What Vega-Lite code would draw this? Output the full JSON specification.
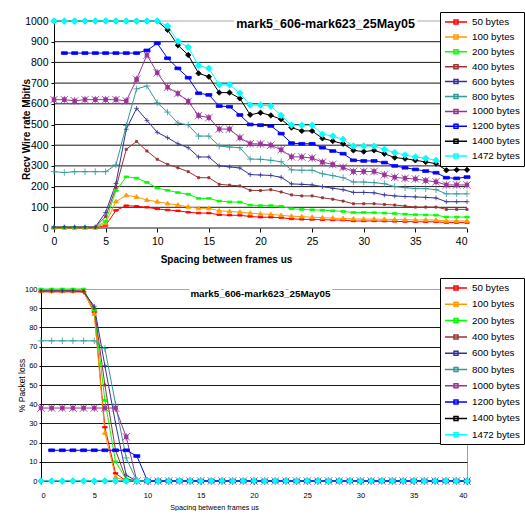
{
"$schema": "https://vega.github.io/schema/vega-lite/v6.json",
"background": "white",
"padding": {"left": 16, "top": 11, "right": 0, "bottom": 0},
"config": {"view": {"stroke": null}, "font": "Liberation Sans", "axis": {"labelColor": "black", "titleColor": "black", "domainColor": "black", "tickColor": "black"}},
"resolve": {"scale": {"color": "independent"}, "legend": {"color": "independent"}},
"datasets": {
"rate": [
{"x":0,"50 bytes":1,"100 bytes":1,"200 bytes":3,"400 bytes":4,"600 bytes":5,"800 bytes":272,"1000 bytes":620,"1200 bytes":null,"1400 bytes":1000,"1472 bytes":1000},
{"x":1,"50 bytes":1,"100 bytes":1,"200 bytes":3,"400 bytes":4,"600 bytes":5,"800 bytes":268,"1000 bytes":620,"1200 bytes":845,"1400 bytes":1000,"1472 bytes":1000},
{"x":2,"50 bytes":1,"100 bytes":1,"200 bytes":3,"400 bytes":4,"600 bytes":5,"800 bytes":272,"1000 bytes":614,"1200 bytes":845,"1400 bytes":1000,"1472 bytes":1000},
{"x":3,"50 bytes":1,"100 bytes":1,"200 bytes":3,"400 bytes":4,"600 bytes":5,"800 bytes":272,"1000 bytes":620,"1200 bytes":845,"1400 bytes":1000,"1472 bytes":1000},
{"x":4,"50 bytes":1,"100 bytes":1,"200 bytes":3,"400 bytes":4,"600 bytes":5,"800 bytes":272,"1000 bytes":620,"1200 bytes":845,"1400 bytes":1000,"1472 bytes":1000},
{"x":5,"50 bytes":12,"100 bytes":22,"200 bytes":32,"400 bytes":55,"600 bytes":75,"800 bytes":272,"1000 bytes":620,"1200 bytes":845,"1400 bytes":1000,"1472 bytes":1000},
{"x":6,"50 bytes":85,"100 bytes":128,"200 bytes":180,"400 bytes":195,"600 bytes":215,"800 bytes":305,"1000 bytes":620,"1200 bytes":845,"1400 bytes":1000,"1472 bytes":1000},
{"x":7,"50 bytes":108,"100 bytes":158,"200 bytes":247,"400 bytes":380,"600 bytes":477,"800 bytes":495,"1000 bytes":614,"1200 bytes":845,"1400 bytes":1000,"1472 bytes":1000},
{"x":8,"50 bytes":105,"100 bytes":150,"200 bytes":241,"400 bytes":418,"600 bytes":578,"800 bytes":672,"1000 bytes":718,"1200 bytes":845,"1400 bytes":1000,"1472 bytes":1000},
{"x":9,"50 bytes":100,"100 bytes":135,"200 bytes":220,"400 bytes":372,"600 bytes":520,"800 bytes":686,"1000 bytes":836,"1200 bytes":858,"1400 bytes":1000,"1472 bytes":1000},
{"x":10,"50 bytes":92,"100 bytes":127,"200 bytes":193,"400 bytes":332,"600 bytes":462,"800 bytes":605,"1000 bytes":750,"1200 bytes":892,"1400 bytes":1000,"1472 bytes":1000},
{"x":11,"50 bytes":87,"100 bytes":118,"200 bytes":182,"400 bytes":307,"600 bytes":436,"800 bytes":560,"1000 bytes":680,"1200 bytes":820,"1400 bytes":957,"1472 bytes":976},
{"x":12,"50 bytes":83,"100 bytes":111,"200 bytes":171,"400 bytes":291,"600 bytes":407,"800 bytes":507,"1000 bytes":650,"1200 bytes":771,"1400 bytes":883,"1472 bytes":902},
{"x":13,"50 bytes":76,"100 bytes":102,"200 bytes":163,"400 bytes":272,"600 bytes":388,"800 bytes":498,"1000 bytes":612,"1200 bytes":726,"1400 bytes":836,"1472 bytes":874},
{"x":14,"50 bytes":72,"100 bytes":95,"200 bytes":143,"400 bytes":243,"600 bytes":343,"800 bytes":444,"1000 bytes":543,"1200 bytes":651,"1400 bytes":747,"1472 bytes":785},
{"x":15,"50 bytes":72,"100 bytes":95,"200 bytes":143,"400 bytes":243,"600 bytes":343,"800 bytes":444,"1000 bytes":533,"1200 bytes":643,"1400 bytes":731,"1472 bytes":771},
{"x":16,"50 bytes":64,"100 bytes":83,"200 bytes":130,"400 bytes":211,"600 bytes":300,"800 bytes":396,"1000 bytes":478,"1200 bytes":589,"1400 bytes":654,"1472 bytes":692},
{"x":17,"50 bytes":62,"100 bytes":80,"200 bytes":126,"400 bytes":207,"600 bytes":295,"800 bytes":391,"1000 bytes":478,"1200 bytes":586,"1400 bytes":654,"1472 bytes":692},
{"x":18,"50 bytes":61,"100 bytes":77,"200 bytes":125,"400 bytes":203,"600 bytes":290,"800 bytes":388,"1000 bytes":436,"1200 bytes":546,"1400 bytes":626,"1472 bytes":651},
{"x":19,"50 bytes":56,"100 bytes":72,"200 bytes":111,"400 bytes":182,"600 bytes":258,"800 bytes":333,"1000 bytes":407,"1200 bytes":500,"1400 bytes":547,"1472 bytes":594},
{"x":20,"50 bytes":52,"100 bytes":68,"200 bytes":108,"400 bytes":181,"600 bytes":256,"800 bytes":332,"1000 bytes":406,"1200 bytes":497,"1400 bytes":557,"1472 bytes":594},
{"x":21,"50 bytes":52,"100 bytes":66,"200 bytes":108,"400 bytes":185,"600 bytes":254,"800 bytes":327,"1000 bytes":400,"1200 bytes":493,"1400 bytes":544,"1472 bytes":589},
{"x":22,"50 bytes":50,"100 bytes":61,"200 bytes":105,"400 bytes":174,"600 bytes":245,"800 bytes":320,"1000 bytes":378,"1200 bytes":456,"1400 bytes":525,"1472 bytes":544},
{"x":23,"50 bytes":44,"100 bytes":57,"200 bytes":93,"400 bytes":160,"600 bytes":213,"800 bytes":281,"1000 bytes":344,"1200 bytes":410,"1400 bytes":485,"1472 bytes":497},
{"x":24,"50 bytes":42,"100 bytes":55,"200 bytes":90,"400 bytes":155,"600 bytes":211,"800 bytes":279,"1000 bytes":343,"1200 bytes":407,"1400 bytes":469,"1472 bytes":496},
{"x":25,"50 bytes":41,"100 bytes":52,"200 bytes":88,"400 bytes":155,"600 bytes":208,"800 bytes":279,"1000 bytes":338,"1200 bytes":407,"1400 bytes":469,"1472 bytes":496},
{"x":26,"50 bytes":40,"100 bytes":50,"200 bytes":86,"400 bytes":146,"600 bytes":200,"800 bytes":262,"1000 bytes":318,"1200 bytes":388,"1400 bytes":433,"1472 bytes":453},
{"x":27,"50 bytes":39,"100 bytes":48,"200 bytes":83,"400 bytes":139,"600 bytes":192,"800 bytes":253,"1000 bytes":307,"1200 bytes":372,"1400 bytes":420,"1472 bytes":444},
{"x":28,"50 bytes":38,"100 bytes":46,"200 bytes":80,"400 bytes":130,"600 bytes":185,"800 bytes":243,"1000 bytes":293,"1200 bytes":359,"1400 bytes":407,"1472 bytes":428},
{"x":29,"50 bytes":34,"100 bytes":44,"200 bytes":75,"400 bytes":117,"600 bytes":172,"800 bytes":222,"1000 bytes":273,"1200 bytes":327,"1400 bytes":375,"1472 bytes":396},
{"x":30,"50 bytes":34,"100 bytes":43,"200 bytes":75,"400 bytes":117,"600 bytes":172,"800 bytes":222,"1000 bytes":273,"1200 bytes":324,"1400 bytes":369,"1472 bytes":396},
{"x":31,"50 bytes":34,"100 bytes":43,"200 bytes":74,"400 bytes":117,"600 bytes":170,"800 bytes":219,"1000 bytes":273,"1200 bytes":324,"1400 bytes":375,"1472 bytes":396},
{"x":32,"50 bytes":33,"100 bytes":42,"200 bytes":72,"400 bytes":114,"600 bytes":160,"800 bytes":214,"1000 bytes":257,"1200 bytes":316,"1400 bytes":359,"1472 bytes":380},
{"x":33,"50 bytes":32,"100 bytes":41,"200 bytes":70,"400 bytes":111,"600 bytes":155,"800 bytes":200,"1000 bytes":245,"1200 bytes":300,"1400 bytes":340,"1472 bytes":364},
{"x":34,"50 bytes":31,"100 bytes":40,"200 bytes":67,"400 bytes":106,"600 bytes":152,"800 bytes":195,"1000 bytes":240,"1200 bytes":291,"1400 bytes":335,"1472 bytes":353},
{"x":35,"50 bytes":30,"100 bytes":39,"200 bytes":64,"400 bytes":101,"600 bytes":150,"800 bytes":190,"1000 bytes":237,"1200 bytes":283,"1400 bytes":327,"1472 bytes":343},
{"x":36,"50 bytes":30,"100 bytes":39,"200 bytes":63,"400 bytes":101,"600 bytes":148,"800 bytes":190,"1000 bytes":229,"1200 bytes":275,"1400 bytes":319,"1472 bytes":337},
{"x":37,"50 bytes":30,"100 bytes":38,"200 bytes":62,"400 bytes":101,"600 bytes":145,"800 bytes":185,"1000 bytes":223,"1200 bytes":267,"1400 bytes":311,"1472 bytes":327},
{"x":38,"50 bytes":26,"100 bytes":34,"200 bytes":53,"400 bytes":90,"600 bytes":127,"800 bytes":165,"1000 bytes":208,"1200 bytes":243,"1400 bytes":279,"1472 bytes":310},
{"x":39,"50 bytes":26,"100 bytes":34,"200 bytes":53,"400 bytes":90,"600 bytes":127,"800 bytes":165,"1000 bytes":208,"1200 bytes":240,"1400 bytes":281,"1472 bytes":312},
{"x":40,"50 bytes":26,"100 bytes":34,"200 bytes":53,"400 bytes":90,"600 bytes":127,"800 bytes":165,"1000 bytes":208,"1200 bytes":246,"1400 bytes":281,"1472 bytes":312}
],
"rategrid": [
{"x":0,"x2":40,"value":0},{"x":0,"x2":40,"value":100},{"x":0,"x2":40,"value":200},{"x":0,"x2":40,"value":300},{"x":0,"x2":40,"value":400},{"x":0,"x2":40,"value":500},{"x":0,"x2":40,"value":600},{"x":0,"x2":40,"value":700},{"x":0,"x2":40,"value":800},{"x":0,"x2":40,"value":900},{"x":0,"x2":40,"value":1000}
],
"loss": [
{"x":0,"50 bytes":98.5,"100 bytes":99,"200 bytes":100,"400 bytes":99,"600 bytes":99,"800 bytes":73,"1000 bytes":38,"1200 bytes":null,"1400 bytes":0,"1472 bytes":0},
{"x":1,"50 bytes":98.5,"100 bytes":99,"200 bytes":100,"400 bytes":99,"600 bytes":99,"800 bytes":73,"1000 bytes":38,"1200 bytes":16,"1400 bytes":0,"1472 bytes":0},
{"x":2,"50 bytes":98.5,"100 bytes":99,"200 bytes":100,"400 bytes":99,"600 bytes":99,"800 bytes":73,"1000 bytes":38,"1200 bytes":16,"1400 bytes":0,"1472 bytes":0},
{"x":3,"50 bytes":98.5,"100 bytes":99,"200 bytes":100,"400 bytes":99,"600 bytes":99,"800 bytes":73,"1000 bytes":38,"1200 bytes":16,"1400 bytes":0,"1472 bytes":0},
{"x":4,"50 bytes":98.5,"100 bytes":99,"200 bytes":100,"400 bytes":99,"600 bytes":98.5,"800 bytes":73,"1000 bytes":38,"1200 bytes":16,"1400 bytes":0,"1472 bytes":0},
{"x":5,"50 bytes":88,"100 bytes":87,"200 bytes":89,"400 bytes":90,"600 bytes":91,"800 bytes":73,"1000 bytes":38,"1200 bytes":16,"1400 bytes":0,"1472 bytes":0},
{"x":6,"50 bytes":28,"100 bytes":25,"200 bytes":42,"400 bytes":50,"600 bytes":60,"800 bytes":69,"1000 bytes":38,"1200 bytes":16,"1400 bytes":0,"1472 bytes":0},
{"x":7,"50 bytes":4,"100 bytes":2,"200 bytes":10,"400 bytes":16,"600 bytes":30,"800 bytes":40,"1000 bytes":38,"1200 bytes":16,"1400 bytes":0,"1472 bytes":0},
{"x":8,"50 bytes":0,"100 bytes":0,"200 bytes":1,"400 bytes":1,"600 bytes":3,"800 bytes":12,"1000 bytes":23,"1200 bytes":16,"1400 bytes":0,"1472 bytes":0},
{"x":9,"50 bytes":0,"100 bytes":0,"200 bytes":0,"400 bytes":0,"600 bytes":0,"800 bytes":0,"1000 bytes":0,"1200 bytes":13,"1400 bytes":0,"1472 bytes":0},
{"x":10,"50 bytes":0,"100 bytes":0,"200 bytes":0,"400 bytes":0,"600 bytes":0,"800 bytes":0,"1000 bytes":0,"1200 bytes":0,"1400 bytes":0,"1472 bytes":0},
{"x":11,"50 bytes":0,"100 bytes":0,"200 bytes":0,"400 bytes":0,"600 bytes":0,"800 bytes":0,"1000 bytes":0,"1200 bytes":0,"1400 bytes":0,"1472 bytes":0},
{"x":12,"50 bytes":0,"100 bytes":0,"200 bytes":0,"400 bytes":0,"600 bytes":0,"800 bytes":0,"1000 bytes":0,"1200 bytes":0,"1400 bytes":0,"1472 bytes":0},
{"x":13,"50 bytes":0,"100 bytes":0,"200 bytes":0,"400 bytes":0,"600 bytes":0,"800 bytes":0,"1000 bytes":0,"1200 bytes":0,"1400 bytes":0,"1472 bytes":0},
{"x":14,"50 bytes":0,"100 bytes":0,"200 bytes":0,"400 bytes":0,"600 bytes":0,"800 bytes":0,"1000 bytes":0,"1200 bytes":0,"1400 bytes":0,"1472 bytes":0},
{"x":15,"50 bytes":0,"100 bytes":0,"200 bytes":0,"400 bytes":0,"600 bytes":0,"800 bytes":0,"1000 bytes":0,"1200 bytes":0,"1400 bytes":0,"1472 bytes":0},
{"x":16,"50 bytes":0,"100 bytes":0,"200 bytes":0,"400 bytes":0,"600 bytes":0,"800 bytes":0,"1000 bytes":0,"1200 bytes":0,"1400 bytes":0,"1472 bytes":0},
{"x":17,"50 bytes":0,"100 bytes":0,"200 bytes":0,"400 bytes":0,"600 bytes":0,"800 bytes":0,"1000 bytes":0,"1200 bytes":0,"1400 bytes":0,"1472 bytes":0},
{"x":18,"50 bytes":0,"100 bytes":0,"200 bytes":0,"400 bytes":0,"600 bytes":0,"800 bytes":0,"1000 bytes":0,"1200 bytes":0,"1400 bytes":0,"1472 bytes":0},
{"x":19,"50 bytes":0,"100 bytes":0,"200 bytes":0,"400 bytes":0,"600 bytes":0,"800 bytes":0,"1000 bytes":0,"1200 bytes":0,"1400 bytes":0,"1472 bytes":0},
{"x":20,"50 bytes":0,"100 bytes":0,"200 bytes":0,"400 bytes":0,"600 bytes":0,"800 bytes":0,"1000 bytes":0,"1200 bytes":0,"1400 bytes":0,"1472 bytes":0},
{"x":21,"50 bytes":0,"100 bytes":0,"200 bytes":0,"400 bytes":0,"600 bytes":0,"800 bytes":0,"1000 bytes":0,"1200 bytes":0,"1400 bytes":0,"1472 bytes":0},
{"x":22,"50 bytes":0,"100 bytes":0,"200 bytes":0,"400 bytes":0,"600 bytes":0,"800 bytes":0,"1000 bytes":0,"1200 bytes":0,"1400 bytes":0,"1472 bytes":0},
{"x":23,"50 bytes":0,"100 bytes":0,"200 bytes":0,"400 bytes":0,"600 bytes":0,"800 bytes":0,"1000 bytes":0,"1200 bytes":0,"1400 bytes":0,"1472 bytes":0},
{"x":24,"50 bytes":0,"100 bytes":0,"200 bytes":0,"400 bytes":0,"600 bytes":0,"800 bytes":0,"1000 bytes":0,"1200 bytes":0,"1400 bytes":0,"1472 bytes":0},
{"x":25,"50 bytes":0,"100 bytes":0,"200 bytes":0,"400 bytes":0,"600 bytes":0,"800 bytes":0,"1000 bytes":0,"1200 bytes":0,"1400 bytes":0,"1472 bytes":0},
{"x":26,"50 bytes":0,"100 bytes":0,"200 bytes":0,"400 bytes":0,"600 bytes":0,"800 bytes":0,"1000 bytes":0,"1200 bytes":0,"1400 bytes":0,"1472 bytes":0},
{"x":27,"50 bytes":0,"100 bytes":0,"200 bytes":0,"400 bytes":0,"600 bytes":0,"800 bytes":0,"1000 bytes":0,"1200 bytes":0,"1400 bytes":0,"1472 bytes":0},
{"x":28,"50 bytes":0,"100 bytes":0,"200 bytes":0,"400 bytes":0,"600 bytes":0,"800 bytes":0,"1000 bytes":0,"1200 bytes":0,"1400 bytes":0,"1472 bytes":0},
{"x":29,"50 bytes":0,"100 bytes":0,"200 bytes":0,"400 bytes":0,"600 bytes":0,"800 bytes":0,"1000 bytes":0,"1200 bytes":0,"1400 bytes":0,"1472 bytes":0},
{"x":30,"50 bytes":0,"100 bytes":0,"200 bytes":0,"400 bytes":0,"600 bytes":0,"800 bytes":0,"1000 bytes":0,"1200 bytes":0,"1400 bytes":0,"1472 bytes":0},
{"x":31,"50 bytes":0,"100 bytes":0,"200 bytes":0,"400 bytes":0,"600 bytes":0,"800 bytes":0,"1000 bytes":0,"1200 bytes":0,"1400 bytes":0,"1472 bytes":0},
{"x":32,"50 bytes":0,"100 bytes":0,"200 bytes":0,"400 bytes":0,"600 bytes":0,"800 bytes":0,"1000 bytes":0,"1200 bytes":0,"1400 bytes":0,"1472 bytes":0},
{"x":33,"50 bytes":0,"100 bytes":0,"200 bytes":0,"400 bytes":0,"600 bytes":0,"800 bytes":0,"1000 bytes":0,"1200 bytes":0,"1400 bytes":0,"1472 bytes":0},
{"x":34,"50 bytes":0,"100 bytes":0,"200 bytes":0,"400 bytes":0,"600 bytes":0,"800 bytes":0,"1000 bytes":0,"1200 bytes":0,"1400 bytes":0,"1472 bytes":0},
{"x":35,"50 bytes":0,"100 bytes":0,"200 bytes":0,"400 bytes":0,"600 bytes":0,"800 bytes":0,"1000 bytes":0,"1200 bytes":0,"1400 bytes":0,"1472 bytes":0},
{"x":36,"50 bytes":0,"100 bytes":0,"200 bytes":0,"400 bytes":0,"600 bytes":0,"800 bytes":0,"1000 bytes":0,"1200 bytes":0,"1400 bytes":0,"1472 bytes":0},
{"x":37,"50 bytes":0,"100 bytes":0,"200 bytes":0,"400 bytes":0,"600 bytes":0,"800 bytes":0,"1000 bytes":0,"1200 bytes":0,"1400 bytes":0,"1472 bytes":0},
{"x":38,"50 bytes":0,"100 bytes":0,"200 bytes":0,"400 bytes":0,"600 bytes":0,"800 bytes":0,"1000 bytes":0,"1200 bytes":0,"1400 bytes":0,"1472 bytes":0},
{"x":39,"50 bytes":0,"100 bytes":0,"200 bytes":0,"400 bytes":0,"600 bytes":0,"800 bytes":0,"1000 bytes":0,"1200 bytes":0,"1400 bytes":0,"1472 bytes":0},
{"x":40,"50 bytes":0,"100 bytes":0,"200 bytes":0,"400 bytes":0,"600 bytes":0,"800 bytes":0,"1000 bytes":0,"1200 bytes":0,"1400 bytes":0,"1472 bytes":0}
]
},
"concat": [
{
"width": 426, "height": 207,
"encoding": {
  "x": {"field": "x", "type": "quantitative", "scale": {"domain": [-1.259,40], "nice": false, "zero": false},
        "axis": {"title": "Spacing between frames us", "values": [0,5,10,15,20,25,30,35,40], "grid": false, "domain": false, "tickSize": 4, "labelPadding": 4, "labelFontSize": 10.5, "labelFont": "Liberation Sans", "titleFont": "Liberation Sans", "titleFontSize": 10, "titleFontWeight": "bold", "titleX": 185, "titleY": 31, "titleBaseline": "middle"}},
  "y": {"field": "value", "type": "quantitative", "scale": {"domain": [0,1000], "nice": false},
        "axis": {"title": "Recv Wire rate Mbit/s", "values": [0,100,200,300,400,500,600,700,800,900,1000], "format": "d", "grid": false, "offset": -13, "tickSize": 3, "labelPadding": 3, "labelFontSize": 10.5, "labelFont": "Liberation Sans", "titleFont": "Liberation Sans", "titleFontSize": 10, "titleFontWeight": "bold", "titleX": -28, "titleY": 108, "titleBaseline": "middle"}}
},
"layer": [
{"data": {"name": "rategrid"},
 "mark": {"type": "rule", "strokeWidth": 1},
 "encoding": {"x2": {"field": "x2"}, "color": {"condition": {"test": "datum.value === 1000", "value": "#a8a8a8"}, "value": "#1a1a1a"}}},
{"data": {"name": "rate"},
 "transform": [{"fold": ["50 bytes","100 bytes","200 bytes","400 bytes","600 bytes","800 bytes","1000 bytes","1200 bytes","1400 bytes","1472 bytes"], "as": ["series","value"]}, {"filter": "datum.value != null"}],
 "mark": {"type": "line", "strokeWidth": 1},
 "encoding": {
  "color": {"field": "series", "type": "nominal",
            "scale": {"domain": ["50 bytes","100 bytes","200 bytes","400 bytes","600 bytes","800 bytes","1000 bytes","1200 bytes","1400 bytes","1472 bytes"], "range": ["#FF0000","#FF9900","#00FF00","#993333","#333399","#339999","#993399","#0000FF","#000000","#00FFFF"]},
            "legend": {"title": null, "orient": "none", "legendX": 399, "legendY": -9, "symbolType": "M-2.2,0H2.2M-0.4,-0.4H0.4V0.4H-0.4Z", "symbolSize": 100, "symbolStrokeWidth": 1.5, "symbolOffset": 6, "labelFont": "Liberation Sans", "labelFontSize": 9.8, "labelColor": "black", "labelOffset": 10, "padding": 4, "rowPadding": 3.9, "strokeColor": "black", "fillColor": "white"}}
 }},
{"data": {"name": "rate"},
 "transform": [{"fold": ["50 bytes","100 bytes","200 bytes","400 bytes","600 bytes","800 bytes","1000 bytes","1200 bytes","1400 bytes","1472 bytes"], "as": ["series","value"]}, {"filter": "datum.value != null"}],
 "mark": {"type": "point", "filled": true, "size": 9, "strokeWidth": 0.8, "opacity": 1},
 "encoding": {
  "fill": {"field": "series", "type": "nominal", "legend": null,
            "scale": {"domain": ["1472 bytes","1400 bytes","1200 bytes","1000 bytes","800 bytes","600 bytes","400 bytes","200 bytes","100 bytes","50 bytes"], "range": ["#00FFFF","#000000","#0000FF","#993399","#339999","#333399","#993333","#00FF00","#FF9900","#FF0000"]}},
  "stroke": {"field": "series", "type": "nominal", "legend": null,
            "scale": {"domain": ["1472 bytes","1400 bytes","1200 bytes","1000 bytes","800 bytes","600 bytes","400 bytes","200 bytes","100 bytes","50 bytes"], "range": ["#00FFFF","#000000","#0000FF","#993399","#339999","#333399","#993333","#00FF00","#FF9900","#FF0000"]}},
  "shape": {"field": "series", "type": "nominal", "legend": null,
            "scale": {"domain": ["1472 bytes","1400 bytes","1200 bytes","1000 bytes","800 bytes","600 bytes","400 bytes","200 bytes","100 bytes","50 bytes"], "range": ["M0,-2.2L2.2,0L0,2.2L-2.2,0Z","M0,-1.8L1.8,0L0,1.8L-1.8,0Z","M-2,-0.9H2V0.9H-2Z","M-2.5,-2.5L2.5,2.5M-2.5,2.5L2.5,-2.5M0,-2.5V2.5M-1.2,-1.2H1.2V1.2H-1.2Z","M-2.2,0H2.2M0,-2.2V2.2","M-1.6,0H1.6M0,-1.6V1.6","M-0.7,-0.7H0.7V0.7H-0.7Z","M-1.5,-0.6H1.5V0.6H-1.5Z","M0,-1.6L1.6,1L-1.6,1Z","M-1.5,-0.5H1.5V0.5H-1.5Z"]}}
 }},
{"data": {"values": [{"x": 26.3, "value": 986}]},
 "mark": {"type": "text", "text": "mark5_606-mark623_25May05", "font": "Liberation Sans", "fontWeight": "bold", "fontSize": 12.5, "stroke": "white", "strokeWidth": 6, "strokeJoin": "round", "fill": "white"}},
{"data": {"values": [{"x": 26.3, "value": 986}]},
 "mark": {"type": "text", "text": "mark5_606-mark623_25May05", "font": "Liberation Sans", "fontWeight": "bold", "fontSize": 12.5, "fill": "black"}}
]
},
{
"width": 426, "height": 192,
"view": {"stroke": "#a0a0a0"},
"encoding": {
  "x": {"field": "x", "type": "quantitative", "scale": {"domain": [0,40], "nice": false},
        "axis": {"title": "Spacing between frames us", "values": [0,5,10,15,20,25,30,35,40], "grid": false, "tickSize": 3, "labelPadding": 7, "labelFontSize": 7.5, "labelFont": "Liberation Sans", "titleFont": "Liberation Sans", "titleFontSize": 7.2, "titleFontWeight": "normal", "titleX": 173, "titleY": 26, "titleBaseline": "middle"}},
  "y": {"field": "value", "type": "quantitative", "scale": {"domain": [0,100], "nice": false},
        "axis": {"title": "% Packet loss", "values": [0,10,20,30,40,50,60,70,80,90,100], "grid": true, "gridColor": {"condition": {"test": "datum.value === 100", "value": "#a8a8a8"}, "value": "#1a1a1a"}, "gridWidth": 1, "tickSize": 2, "labelPadding": 2, "labelFontSize": 7.5, "labelFont": "Liberation Sans", "titleFont": "Liberation Sans", "titleFontSize": 8.5, "titleFontWeight": "normal", "titleX": -20, "titleY": 96, "titleBaseline": "middle"}}
},
"layer": [
{"data": {"name": "loss"},
 "transform": [{"fold": ["50 bytes","100 bytes","200 bytes","400 bytes","600 bytes","800 bytes","1000 bytes","1200 bytes","1400 bytes","1472 bytes"], "as": ["series","value"]}, {"filter": "datum.value != null"}],
 "mark": {"type": "line", "strokeWidth": 1},
 "encoding": {
  "color": {"field": "series", "type": "nominal",
            "scale": {"domain": ["50 bytes","100 bytes","200 bytes","400 bytes","600 bytes","800 bytes","1000 bytes","1200 bytes","1400 bytes","1472 bytes"], "range": ["#FF0000","#FF9900","#00FF00","#993333","#333399","#339999","#993399","#0000FF","#000000","#00FFFF"]},
            "legend": {"title": null, "orient": "none", "legendX": 399, "legendY": -11, "symbolType": "M-2.2,0H2.2M-0.4,-0.4H0.4V0.4H-0.4Z", "symbolSize": 100, "symbolStrokeWidth": 1.5, "symbolOffset": 6, "labelFont": "Liberation Sans", "labelFontSize": 9.8, "labelColor": "black", "labelOffset": 10, "padding": 4, "rowPadding": 5.3, "strokeColor": "black", "fillColor": "white"}}
 }},
{"data": {"name": "loss"},
 "transform": [{"fold": ["50 bytes","100 bytes","200 bytes","400 bytes","600 bytes","800 bytes","1000 bytes","1200 bytes","1400 bytes","1472 bytes"], "as": ["series","value"]}, {"filter": "datum.value != null"}],
 "mark": {"type": "point", "filled": true, "size": 9, "strokeWidth": 0.8, "opacity": 1},
 "encoding": {
  "fill": {"field": "series", "type": "nominal", "legend": null,
            "scale": {"domain": ["1472 bytes","1400 bytes","1200 bytes","1000 bytes","800 bytes","600 bytes","400 bytes","200 bytes","100 bytes","50 bytes"], "range": ["#00FFFF","#000000","#0000FF","#993399","#339999","#333399","#993333","#00FF00","#FF9900","#FF0000"]}},
  "stroke": {"field": "series", "type": "nominal", "legend": null,
            "scale": {"domain": ["1472 bytes","1400 bytes","1200 bytes","1000 bytes","800 bytes","600 bytes","400 bytes","200 bytes","100 bytes","50 bytes"], "range": ["#00FFFF","#000000","#0000FF","#993399","#339999","#333399","#993333","#00FF00","#FF9900","#FF0000"]}},
  "shape": {"field": "series", "type": "nominal", "legend": null,
            "scale": {"domain": ["1472 bytes","1400 bytes","1200 bytes","1000 bytes","800 bytes","600 bytes","400 bytes","200 bytes","100 bytes","50 bytes"], "range": ["M0,-2.2L2.2,0L0,2.2L-2.2,0Z","M0,-1.8L1.8,0L0,1.8L-1.8,0Z","M-2,-0.9H2V0.9H-2Z","M-2.5,-2.5L2.5,2.5M-2.5,2.5L2.5,-2.5M0,-2.5V2.5M-1.2,-1.2H1.2V1.2H-1.2Z","M-2.2,0H2.2M0,-2.2V2.2","M-1.6,0H1.6M0,-1.6V1.6","M-0.7,-0.7H0.7V0.7H-0.7Z","M-1.5,-0.6H1.5V0.6H-1.5Z","M0,-1.6L1.6,1L-1.6,1Z","M-1.5,-0.5H1.5V0.5H-1.5Z"]}}
 }},
{"data": {"values": [{"x": 20.6, "value": 97.4}]},
 "mark": {"type": "text", "text": "mark5_606-mark623_25May05", "font": "Liberation Sans", "fontWeight": "bold", "fontSize": 9.8, "stroke": "white", "strokeWidth": 6, "strokeJoin": "round", "fill": "white"}},
{"data": {"values": [{"x": 20.6, "value": 97.4}]},
 "mark": {"type": "text", "text": "mark5_606-mark623_25May05", "font": "Liberation Sans", "fontWeight": "bold", "fontSize": 9.8, "fill": "black"}}
]
}
],
"columns": 1,
"align": "none",
"spacing": 13
}
